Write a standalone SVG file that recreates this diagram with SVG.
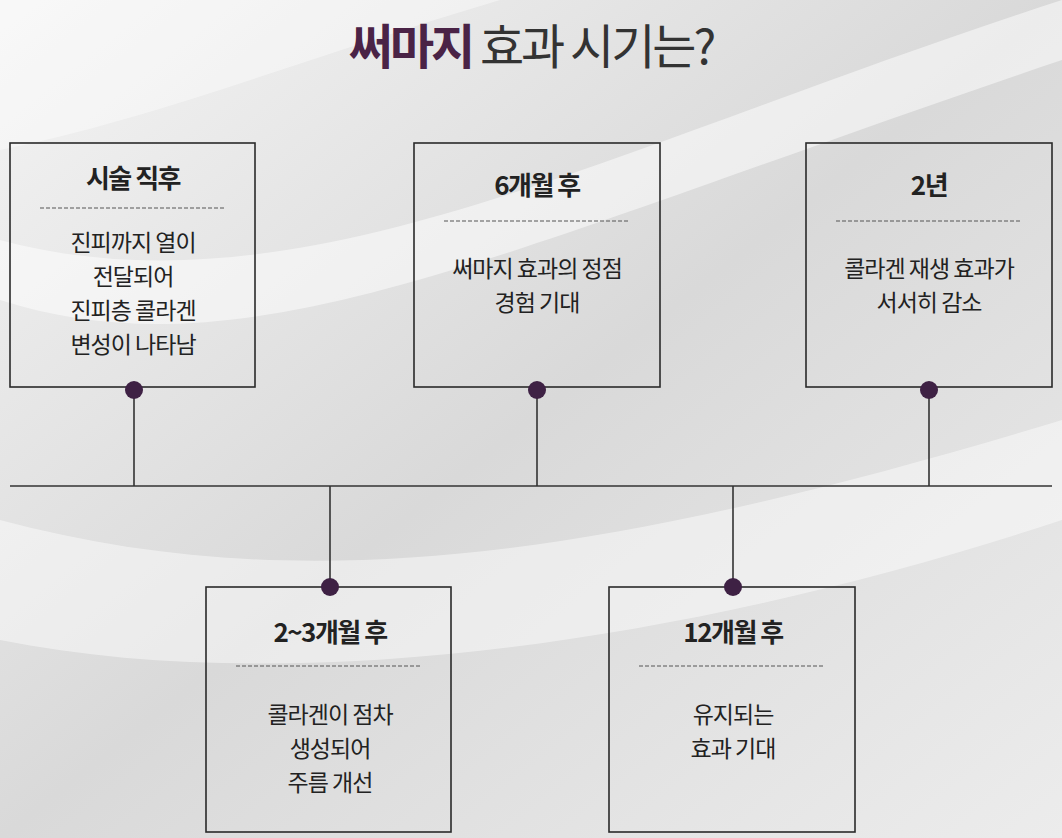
<svg xmlns="http://www.w3.org/2000/svg" width="1062" height="838" viewBox="0 0 1062 838">
<style>
.box{fill:none;stroke:#2a2a2a;stroke-width:1.6}
.dash{stroke:#555;stroke-width:1;stroke-dasharray:4 2}
.h{font-family:"Noto Sans CJK KR","Noto Sans",sans-serif;font-weight:700;font-size:26px;fill:#222;text-anchor:middle;letter-spacing:-1.5px}
.b{font-family:"Noto Sans CJK KR","Noto Sans",sans-serif;font-size:23px;fill:#222;text-anchor:middle;letter-spacing:-1px}
.dot{fill:#3e2144}
.ln{stroke:#333;stroke-width:1.6;fill:none}
</style>
<defs>
<linearGradient id="bg" x1="0" y1="0" x2="1" y2="1">
<stop offset="0" stop-color="#f4f4f4"/><stop offset="0.5" stop-color="#d9d9d9"/><stop offset="1" stop-color="#ececec"/>
</linearGradient>
</defs>
<rect width="1062" height="838" fill="url(#bg)"/>
<path d="M0 300 C250 380 500 250 1062 60 L1062 0 C600 150 300 320 0 240Z" fill="#ffffff" opacity="0.5"/>
<path d="M0 520 C300 600 600 560 1062 420 L1062 520 C700 640 300 700 0 640Z" fill="#ffffff" opacity="0.45"/>
<path d="M0 0 L500 0 C300 60 150 120 0 150Z" fill="#ffffff" opacity="0.4"/>
<text x="531" y="64" font-family="'Noto Sans CJK KR',sans-serif" font-size="48" text-anchor="middle" fill="#333" letter-spacing="-3"><tspan fill="#4a2346" font-weight="700">써마지</tspan> 효과 시기는?</text>
<g id="connectors">
<line class="ln" x1="10" y1="486" x2="1052" y2="486"/>
<line class="ln" x1="134" y1="390" x2="134" y2="486"/>
<line class="ln" x1="537" y1="390" x2="537" y2="486"/>
<line class="ln" x1="929" y1="390" x2="929" y2="486"/>
<line class="ln" x1="330" y1="486" x2="330" y2="587"/>
<line class="ln" x1="733" y1="486" x2="733" y2="587"/>
</g>
<g id="n1"><rect class="box" x="10" y="143" width="245" height="244"/>
<text class="h" x="133" y="188">시술 직후</text><line class="dash" x1="40" y1="208" x2="226" y2="208"/>
<text class="b" x="133" y="251">진피까지 열이</text><text class="b" x="133" y="285">전달되어</text><text class="b" x="133" y="319">진피층 콜라겐</text><text class="b" x="133" y="353">변성이 나타남</text>
<circle class="dot" cx="134" cy="390" r="9"/></g>
<g id="n2"><rect class="box" x="414" y="143" width="246" height="244"/>
<text class="h" x="537" y="195">6개월 후</text><line class="dash" x1="444" y1="221" x2="630" y2="221"/>
<text class="b" x="537" y="277">써마지 효과의 정점</text><text class="b" x="537" y="311">경험 기대</text>
<circle class="dot" cx="537" cy="390" r="9"/></g>
<g id="n3"><rect class="box" x="806" y="143" width="246" height="244"/>
<text class="h" x="929" y="195">2년</text><line class="dash" x1="836" y1="221" x2="1022" y2="221"/>
<text class="b" x="929" y="277">콜라겐 재생 효과가</text><text class="b" x="929" y="311">서서히 감소</text>
<circle class="dot" cx="929" cy="390" r="9"/></g>
<g id="n4"><rect class="box" x="206" y="587" width="245" height="245"/>
<text class="h" x="330" y="642">2~3개월 후</text><line class="dash" x1="236" y1="666" x2="420" y2="666"/>
<text class="b" x="330" y="723">콜라겐이 점차</text><text class="b" x="330" y="757">생성되어</text><text class="b" x="330" y="791">주름 개선</text>
<circle class="dot" cx="330" cy="587" r="9"/></g>
<g id="n5"><rect class="box" x="609" y="587" width="246" height="245"/>
<text class="h" x="733" y="642">12개월 후</text><line class="dash" x1="639" y1="666" x2="825" y2="666"/>
<text class="b" x="733" y="723">유지되는</text><text class="b" x="733" y="757">효과 기대</text>
<circle class="dot" cx="733" cy="587" r="9"/></g>
</svg>
